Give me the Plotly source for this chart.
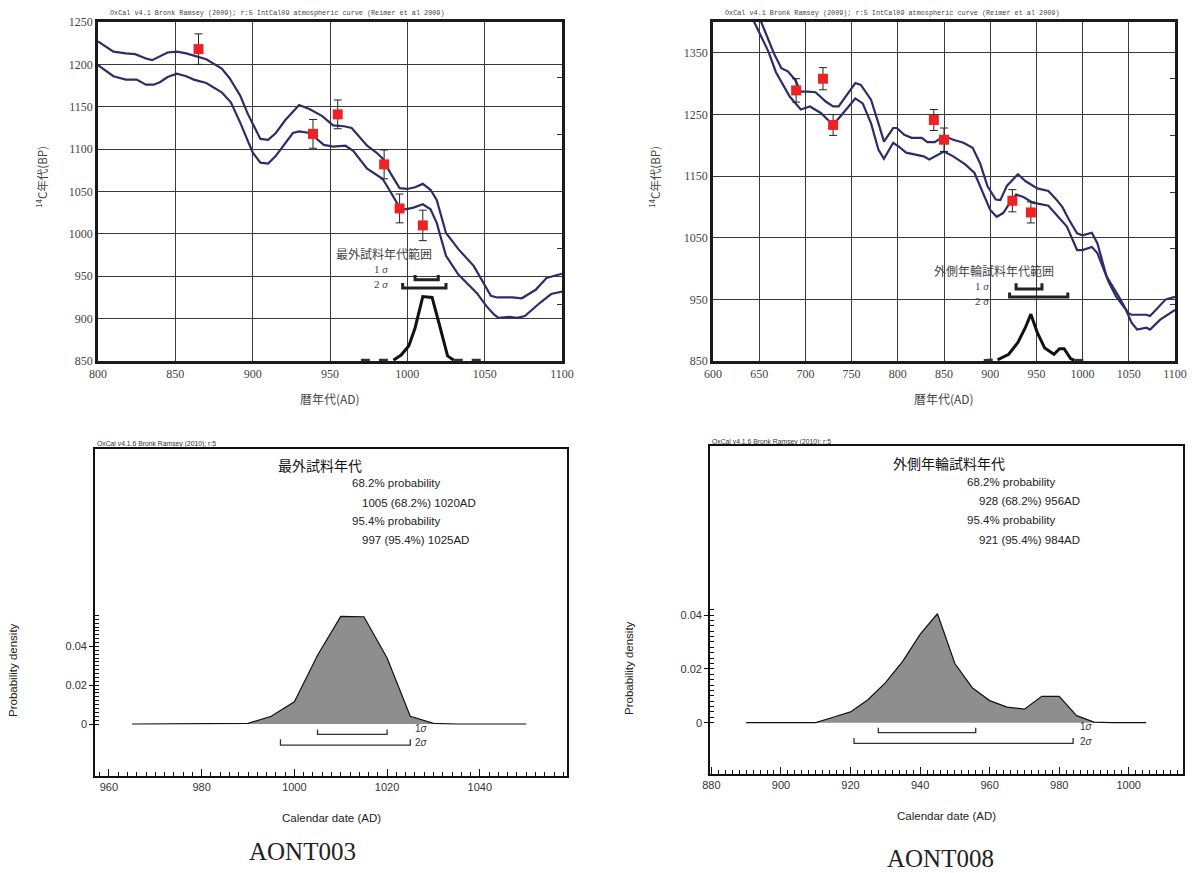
import plotly.graph_objects as go
import numpy as np

# ---------------- DATA ----------------
# Top-left: calibration curve (IntCal09 band) around AONT003
tl_upper_x = [800, 810, 818, 824, 831, 835, 845, 851, 857, 870, 880, 885, 892, 897, 905, 910, 915, 921, 930, 937,
              945, 952, 959, 964, 974, 980, 984, 989, 995, 1000, 1005, 1010, 1015, 1019, 1025, 1033, 1043, 1054,
              1058, 1068, 1074, 1083, 1090, 1100]
tl_upper_y = [1227, 1215, 1213, 1212, 1207, 1205, 1214, 1215, 1213, 1206, 1195, 1184, 1163, 1141, 1112, 1111, 1119,
              1134, 1152, 1147, 1139, 1128, 1127, 1125, 1104, 1096, 1089, 1072, 1054, 1053, 1055, 1059, 1052, 1040,
              1001, 982, 962, 927, 925, 925, 924, 934, 948, 953]
tl_lower_x = [800, 810, 818, 825, 831, 836, 840, 845, 851, 857, 862, 870, 880, 886, 892, 900, 905, 910, 915, 926,
              930, 937, 946, 952, 960, 965, 974, 984, 989, 995, 999, 1004, 1010, 1015, 1019, 1025, 1033, 1045, 1051,
              1056, 1059, 1066, 1071, 1076, 1086, 1093, 1100]
tl_lower_y = [1199, 1186, 1182, 1182, 1176, 1176, 1179, 1185, 1189, 1186, 1182, 1178, 1167, 1155, 1131, 1096, 1084,
              1083, 1092, 1119, 1121, 1119, 1105, 1103, 1104, 1098, 1077, 1065, 1050, 1031, 1029, 1031, 1035, 1029,
              1013, 974, 952, 930, 915, 905, 901, 902, 901, 903, 919, 929, 932]
tl_pts_x = [865, 939, 955, 985, 995, 1010]
tl_pts_y = [1218, 1118, 1141, 1082, 1030, 1010]
tl_pts_err = [18, 17, 17, 17, 17, 18]
tl_prob_x = [970, 991, 996, 1001, 1005, 1010, 1016, 1021, 1026, 1030, 1051]
tl_prob_y = [851, 851, 857, 868, 889, 926, 925, 891, 856, 851, 851]

# Top-right: calibration curve around AONT008
tr_upper_x = [650, 660, 666, 674, 681, 689, 695, 703, 711, 722, 730, 736, 744, 754, 760, 771, 779, 785, 795, 799,
              807, 815, 826, 832, 840, 850, 860, 871, 881, 889, 897, 906, 911, 918, 930, 938, 951, 963, 971, 978,
              985, 994, 1000, 1010, 1016, 1026, 1039, 1049, 1053, 1069, 1073, 1090, 1100]
tr_upper_y = [1408, 1370, 1349, 1325, 1320, 1306, 1287, 1287, 1286, 1271, 1263, 1263, 1279, 1301, 1298, 1274, 1236,
              1206, 1228, 1228, 1217, 1212, 1212, 1205, 1205, 1215, 1209, 1204, 1196, 1171, 1134, 1112, 1111, 1134,
              1153, 1142, 1130, 1126, 1113, 1100, 1080, 1057, 1054, 1058, 1041, 987, 955, 928, 925, 925, 923, 950,
              954]
tr_lower_x = [642, 652, 660, 668, 676, 683, 695, 705, 717, 730, 738, 754, 762, 771, 779, 785, 795, 801, 809, 828,
              834, 840, 850, 860, 873, 883, 891, 900, 907, 914, 922, 928, 936, 946, 963, 971, 983, 994, 1000, 1010,
              1016, 1028, 1036, 1047, 1053, 1059, 1069, 1073, 1084, 1100]
tr_lower_y = [1408, 1376, 1352, 1319, 1298, 1279, 1258, 1263, 1252, 1233, 1247, 1276, 1268, 1236, 1193, 1178, 1204,
              1198, 1188, 1182, 1177, 1182, 1190, 1182, 1169, 1155, 1128, 1095, 1084, 1090, 1108, 1120, 1116, 1107,
              1102, 1089, 1068, 1030, 1030, 1035, 1025, 979, 955, 933, 912, 901, 904, 901, 917, 933]
tr_pts_x = [690, 719, 730, 839, 850, 924, 944]
tr_pts_y = [1289, 1308, 1233, 1241, 1209, 1110, 1091]
tr_pts_err = [19, 18, 17, 17, 19, 18, 17]
tr_prob_x = [893, 908, 920, 930, 938, 944, 951, 959, 969, 975, 980, 987, 991, 1006]
tr_prob_y = [851, 852, 861, 880, 904, 926, 896, 871, 861, 870, 870, 854, 851, 851]

# Calibrated ranges
aont003_1s = [1005, 1020]
aont003_2s = [997, 1025]
aont008_1s = [928, 956]
aont008_2s = [921, 984]

# Bottom-left: probability density AONT003
bl_years = [965, 970, 975, 980, 985, 990, 995, 1000, 1005, 1010, 1015, 1020, 1025, 1030, 1035, 1040, 1045, 1050]
bl_dens = [0, 0, 0, 0, 0, 0.0003, 0.004, 0.0115, 0.0355, 0.0555, 0.0553, 0.034, 0.004, 0.0003, 0, 0, 0, 0]

# Bottom-right: probability density AONT008
br_years = [890, 895, 900, 905, 910, 915, 920, 925, 930, 935, 940, 945, 950, 955, 960, 965, 970, 975, 980, 985,
            990, 995, 1000, 1005]
br_dens = [0, 0, 0, 0, 0, 0.002, 0.004, 0.0085, 0.0148, 0.0228, 0.0328, 0.0405, 0.022, 0.013, 0.0082, 0.0058,
           0.005, 0.0098, 0.0098, 0.0026, 0.0002, 0, 0, 0]

# ---------------- STYLE ----------------
W, H = 1196, 873
NAVY = '#2d2d6a'
RED = '#ee2222'
GRID = '#3a3a3a'
SERIF = 'Liberation Serif, serif'
SANS = 'Liberation Sans, Arial, sans-serif'
CJK = 'Noto Sans CJK JP, sans-serif'


def fx(px):
    return px / W


def fy(py):
    return 1 - py / H


fig = go.Figure()


def add_line(x, y, xa, ya, color, width, dash='solid'):
    fig.add_trace(go.Scatter(x=x, y=y, mode='lines', xaxis=xa, yaxis=ya,
                             line=dict(color=color, width=width, dash=dash), hoverinfo='skip'))


def bracket(rng, yb, yt, xa, ya, width, color):
    add_line([rng[0], rng[0], rng[1], rng[1]], [yt, yb, yb, yt], xa, ya, color, width)


def top_panel(ux, uy, lx, ly, px_, py_, pe, prx, pry, r1, r2, xa, ya, b1, b2):
    add_line(ux, uy, xa, ya, NAVY, 2.2)
    add_line(lx, ly, xa, ya, NAVY, 2.2)
    fig.add_trace(go.Scatter(x=px_, y=py_, mode='markers', xaxis=xa, yaxis=ya,
                             marker=dict(symbol='square', size=10, color=RED),
                             error_y=dict(type='data', array=pe, color='#222', thickness=1, width=4)))
    add_line(prx[1:-1], pry[1:-1], xa, ya, '#111', 3)
    add_line(prx[:2], pry[:2], xa, ya, '#333', 3, 'dash')
    add_line(prx[-2:], pry[-2:], xa, ya, '#333', 3, 'dash')
    bracket(r1, b1[0], b1[1], xa, ya, 3, '#222')
    bracket(r2, b2[0], b2[1], xa, ya, 3, '#222')


top_panel(tl_upper_x, tl_upper_y, tl_lower_x, tl_lower_y, tl_pts_x, tl_pts_y, tl_pts_err,
          tl_prob_x, tl_prob_y, aont003_1s, aont003_2s, 'x', 'y', (946, 951.5), (936, 942))
top_panel(tr_upper_x, tr_upper_y, tr_lower_x, tr_lower_y, tr_pts_x, tr_pts_y, tr_pts_err,
          tr_prob_x, tr_prob_y, aont008_1s, aont008_2s, 'x2', 'y2', (967, 976), (954, 961))


def bottom_panel(yrs, dens, r1, r2, xa, ya, b1, b2):
    fig.add_trace(go.Scatter(x=yrs, y=dens, mode='lines', fill='tozeroy', fillcolor='#8e8e8e',
                             line=dict(color='#111', width=1.2), xaxis=xa, yaxis=ya, hoverinfo='skip'))
    bracket(r1, b1[0], b1[1], xa, ya, 1.3, '#333')
    bracket(r2, b2[0], b2[1], xa, ya, 1.3, '#333')


bottom_panel(bl_years, bl_dens, aont003_1s, aont003_2s, 'x3', 'y3', (-0.0053, -0.0028), (-0.0109, -0.0079))
bottom_panel(br_years, br_dens, aont008_1s, aont008_2s, 'x4', 'y4', (-0.0037, -0.0019), (-0.0077, -0.0057))

# invisible traces for the right-edge tick overlays
fig.add_trace(go.Scatter(x=[None], y=[None], xaxis='x', yaxis='y5', mode='lines', showlegend=False))
fig.add_trace(go.Scatter(x=[None], y=[None], xaxis='x2', yaxis='y6', mode='lines', showlegend=False))

top_tickfont = dict(family=SERIF, size=12, color='#444')
common_top_x = dict(showgrid=True, gridcolor=GRID, gridwidth=1, showline=True, linecolor='#1a1a1a',
                    linewidth=2.5, mirror=True, ticks='', zeroline=False, tickfont=top_tickfont, dtick=50,
                    automargin=False)
common_top_y = dict(showgrid=True, gridcolor=GRID, gridwidth=1, showline=True, linecolor='#1a1a1a',
                    linewidth=2.5, mirror=True, ticks='', zeroline=False, tickfont=top_tickfont,
                    automargin=False)

bot_tickfont = dict(family=SANS, size=11, color='#333')
common_bot_x = dict(showgrid=False, showline=True, linecolor='#111', linewidth=1.6, mirror=True,
                    ticks='inside', ticklen=7, tickcolor='#111', tickwidth=1, dtick=20, zeroline=False,
                    tickfont=bot_tickfont, automargin=False,
                    minor=dict(dtick=2, ticks='inside', ticklen=4, tickcolor='#111', tickwidth=1))
common_bot_y = dict(showgrid=False, showline=True, linecolor='#111', linewidth=1.6, mirror=True, zeroline=False,
                    tickmode='array', tickvals=[0, 0.02, 0.04], ticktext=['0', '0.02', '0.04'],
                    ticks='outside', ticklen=4, tickcolor='#111', tickfont=bot_tickfont, automargin=False)

fig.update_layout(
    template='none',
    width=W, height=H, margin=dict(l=0, r=0, t=0, b=0, autoexpand=False),
    paper_bgcolor='white', plot_bgcolor='white', showlegend=False,
    xaxis=dict(domain=[fx(98), fx(562)], range=[800, 1100], anchor='y', tick0=800, **common_top_x),
    yaxis=dict(domain=[fy(361), fy(22)], range=[850, 1250], anchor='x', tick0=850, dtick=50, **common_top_y),
    xaxis2=dict(domain=[fx(713), fx(1175)], range=[600, 1100], anchor='y2', tick0=600, **common_top_x),
    yaxis2=dict(domain=[fy(361), fy(22)], range=[850, 1400], anchor='x2', tick0=850, dtick=100, **common_top_y),
    xaxis3=dict(domain=[fx(95), fx(567)], range=[957, 1058.8], anchor='y3', tick0=960, **common_bot_x),
    yaxis3=dict(domain=[fy(776), fy(449)], range=[-0.0268, 0.1418], anchor='x3',
                minor=dict(tickmode='array', tickvals=list(np.round(np.arange(0, 0.0561, 0.002), 4)),
                           ticks='inside', ticklen=4, tickcolor='#111', tickwidth=1), **common_bot_y),
    xaxis4=dict(domain=[fx(710), fx(1183)], range=[879.6, 1015.6], anchor='y4', tick0=880, **common_bot_x),
    yaxis4=dict(domain=[fy(774), fy(446)], range=[-0.0191, 0.1029], anchor='x4',
                minor=dict(tickmode='array', tickvals=list(np.round(np.arange(0, 0.0421, 0.002), 4)),
                           ticks='inside', ticklen=4, tickcolor='#111', tickwidth=1), **common_bot_y),
    yaxis5=dict(overlaying='y', side='right', anchor='x', range=[850, 1250], showgrid=False, zeroline=False,
                showline=False, showticklabels=False, tickmode='array', automargin=False,
                tickvals=[1184, 1117, 1050, 983, 917], ticks='inside', ticklen=5, tickcolor='#333'),
    yaxis6=dict(overlaying='y2', side='right', anchor='x2', range=[850, 1400], showgrid=False, zeroline=False,
                showline=False, showticklabels=False, tickmode='array', automargin=False,
                tickvals=[1309, 1216, 1124, 1033, 942], ticks='inside', ticklen=5, tickcolor='#333'),
)

ann = []


def paper_text(x, y, text, size, family, color='#333', xanchor='center', angle=0):
    ann.append(dict(x=fx(x), y=fy(y), xref='paper', yref='paper', text=text, showarrow=False,
                    xanchor=xanchor, yanchor='middle', textangle=angle,
                    font=dict(family=family, size=size, color=color)))


def data_text(x, y, xa, ya, text, size, family, color='#333', xanchor='center'):
    ann.append(dict(x=x, y=y, xref=xa, yref=ya, text=text, showarrow=False, xanchor=xanchor,
                    yanchor='middle', font=dict(family=family, size=size, color=color)))


sub = 'OxCal v4.1 Bronk Ramsey (2009); r:5 IntCal09 atmospheric curve (Reimer et al 2009)'
paper_text(108, 13, sub, 6.8, 'Liberation Mono, monospace', '#444', 'left')
paper_text(723, 13, sub, 6.8, 'Liberation Mono, monospace', '#444', 'left')
for xp in (42, 655):
    paper_text(xp, 177, '<sup>14</sup>C年代(BP)', 11.5, CJK, '#444', angle=-90)
paper_text(330, 399, '暦年代(AD)', 12, CJK, '#444')
paper_text(944, 399, '暦年代(AD)', 12, CJK, '#444')

data_text(985, 977, 'x', 'y', '最外試料年代範囲', 12, CJK, '#444')
data_text(983, 959, 'x', 'y', '1 <i>σ</i>', 11, SERIF, '#444')
data_text(983, 941, 'x', 'y', '2 <i>σ</i>', 11, SERIF, '#444')
data_text(904, 997, 'x2', 'y2', '外側年輪試料年代範囲', 12, CJK, '#444')
data_text(891.5, 972, 'x2', 'y2', '1 <i>σ</i>', 11, SERIF, '#444')
data_text(891.5, 947, 'x2', 'y2', '2 <i>σ</i>', 11, SERIF, '#444')

# bottom panels
sub2 = 'OxCal v4.1.6 Bronk Ramsey (2010); r:5'
paper_text(95, 444, sub2, 6.8, SANS, '#333', 'left')
paper_text(710, 442, sub2, 6.8, SANS, '#333', 'left')


def dom_text(xa, ya, x, y, text, size, family, color='#222'):
    ann.append(dict(x=x, y=y, xref=xa + ' domain', yref=ya + ' domain', text=text, showarrow=False,
                    xanchor='left', yanchor='middle', font=dict(family=family, size=size, color=color)))


dom_text('x3', 'y3', 0.3835, 0.951, '最外試料年代', 14, CJK, '#111')
dom_text('x3', 'y3', 0.540, 0.896, '68.2% probability', 11.5, SANS)
dom_text('x3', 'y3', 0.561, 0.835, '1005 (68.2%) 1020AD', 11.5, SANS)
dom_text('x3', 'y3', 0.540, 0.780, '95.4% probability', 11.5, SANS)
dom_text('x3', 'y3', 0.561, 0.722, '997 (95.4%) 1025AD', 11.5, SANS)

dom_text('x4', 'y4', 0.383, 0.948, '外側年輪試料年代', 14, CJK, '#111')
dom_text('x4', 'y4', 0.539, 0.890, '68.2% probability', 11.5, SANS)
dom_text('x4', 'y4', 0.564, 0.832, '928 (68.2%) 956AD', 11.5, SANS)
dom_text('x4', 'y4', 0.539, 0.774, '95.4% probability', 11.5, SANS)
dom_text('x4', 'y4', 0.564, 0.713, '921 (95.4%) 984AD', 11.5, SANS)

data_text(1025.6, -0.0022, 'x3', 'y3', '1<i>σ</i>', 10, SANS, '#333', 'left')
data_text(1025.6, -0.0097, 'x3', 'y3', '2<i>σ</i>', 10, SANS, '#333', 'left')
data_text(985.5, -0.0015, 'x4', 'y4', '1<i>σ</i>', 10, SANS, '#333', 'left')
data_text(985.5, -0.0071, 'x4', 'y4', '2<i>σ</i>', 10, SANS, '#333', 'left')

paper_text(13, 670, 'Probability density', 11.5, SANS, '#222', angle=-90)
paper_text(629, 668, 'Probability density', 11.5, SANS, '#222', angle=-90)
paper_text(331, 818, 'Calendar date (AD)', 11.5, SANS, '#222')
paper_text(946, 816, 'Calendar date (AD)', 11.5, SANS, '#222')
paper_text(302, 851, 'AONT003', 25, SERIF, '#222')
paper_text(940, 858, 'AONT008', 25, SERIF, '#222')

fig.update_layout(annotations=ann)

fig.write_html("out.html", config={'displayModeBar': False},
               post_script="document.body.style.margin='0';document.body.style.overflow='hidden';")
